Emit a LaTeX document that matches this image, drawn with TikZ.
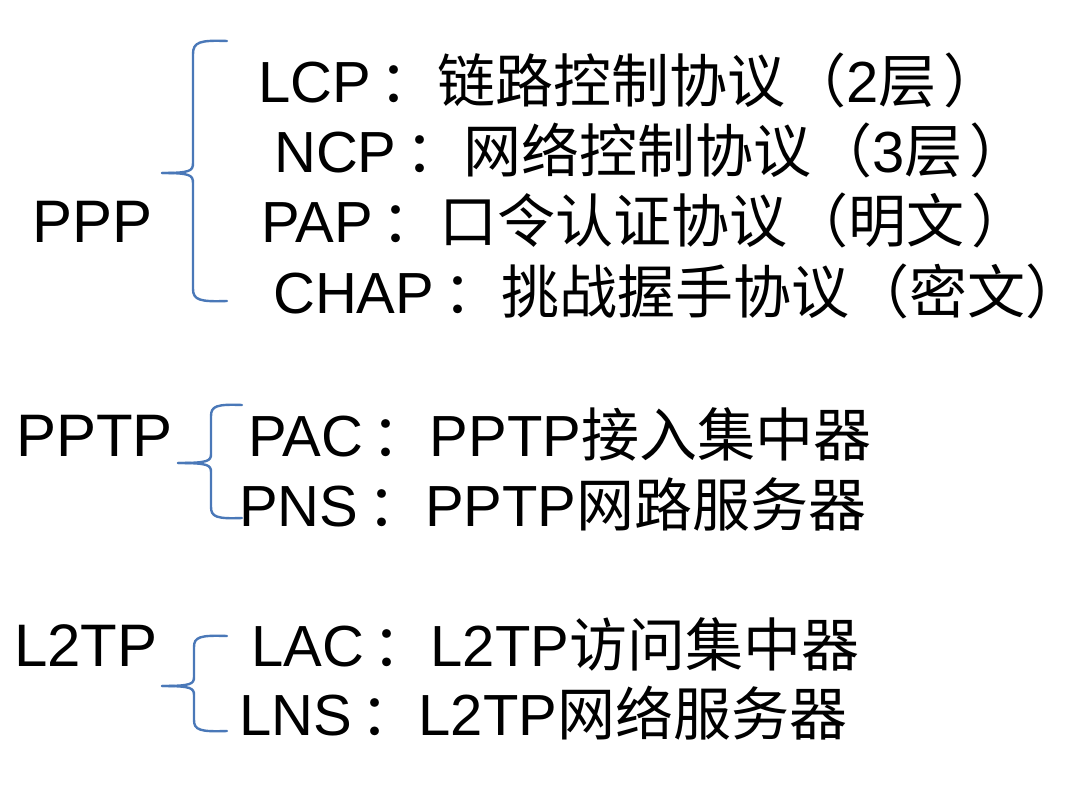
\documentclass[tikz,border=0pt]{standalone}
\usepackage{fontspec}
\setmainfont{Liberation Sans}
\newfontfamily\cjk{Noto Sans CJK SC}
\definecolor{bracecol}{HTML}{4A78B8}
\newcommand\zcol{\hspace{0.15em}{\cjk：}}
\newcommand\zlp{\hspace{0.05em}{\cjk（}}
\newcommand\zrp{\hspace{0.12em}{\cjk）}}
\begin{document}
\begin{tikzpicture}[x=1pt,y=-1pt,
  lbl/.style={anchor=base west,inner sep=0pt,font=\fontsize{58}{60}\selectfont},
  grp/.style={anchor=base west,inner sep=0pt,font=\fontsize{60}{62}\selectfont},
  bracepath/.style={draw=bracecol,line width=2.4pt,line cap=round,line join=round}]
\path[fill=white,use as bounding box] (0,0) rectangle (1086,791);

% PPP group
\node[grp] (ppp) at (32,243) {PPP};
\node[lbl] (lcp) at (258,103) {LCP\zcol{\cjk 链路控制协议}\zlp 2{\cjk 层}\zrp};
\node[lbl] (ncp) at (274,173) {NCP\zcol{\cjk 网络控制协议}\zlp 3{\cjk 层}\zrp};
\node[lbl] (pap) at (261,243) {PAP\zcol{\cjk 口令认证协议}\zlp{\cjk 明文}\zrp};
\node[lbl] (chap) at (273,313) {CHAP\zcol{\cjk 挑战握手协议}\zlp{\cjk 密文）}};

\coordinate (b1t) at (227,41);
\coordinate (b1m) at (162,173);
\coordinate (b1b) at (227,301);
\path[bracepath] (b1t) .. controls (200,40) and (193,42) .. (193,54) -- (193,163)
  .. controls (193,171) and (190,173) .. (b1m);
\path[bracepath] (b1m) .. controls (190,173) and (193,175) .. (193,183) -- (193,289)
  .. controls (193,300) and (200,302) .. (b1b);

% PPTP group
\node[grp] (pptp) at (16,456) {PPTP};
\node[lbl] (pac) at (248,456) {PAC\zcol PPTP{\cjk 接入集中器}};
\node[lbl] (pns) at (239,526) {PNS\zcol PPTP{\cjk 网路服务器}};

\coordinate (b2t) at (242,405);
\coordinate (b2m) at (178,463);
\coordinate (b2b) at (242,518);
\path[bracepath] (b2t) .. controls (217,404) and (211,406) .. (211,416) -- (211,454)
  .. controls (211,461) and (208,463) .. (b2m);
\path[bracepath] (b2m) .. controls (208,463) and (211,465) .. (211,472) -- (211,507)
  .. controls (211,517) and (217,519) .. (b2b);

% L2TP group
\node[grp] (l2tp) at (14,666) {L2TP};
\node[lbl] (lac) at (251,666) {LAC\zcol L2TP{\cjk 访问集中器}};
\node[lbl] (lns) at (239,735) {LNS\zcol L2TP{\cjk 网络服务器}};

\coordinate (b3t) at (227,636);
\coordinate (b3m) at (162,686);
\coordinate (b3b) at (227,731);
\path[bracepath] (b3t) .. controls (200,635) and (194,637) .. (194,647) -- (194,677)
  .. controls (194,684) and (191,686) .. (b3m);
\path[bracepath] (b3m) .. controls (191,686) and (194,688) .. (194,695) -- (194,720)
  .. controls (194,730) and (200,732) .. (b3b);
\end{tikzpicture}
\end{document}
